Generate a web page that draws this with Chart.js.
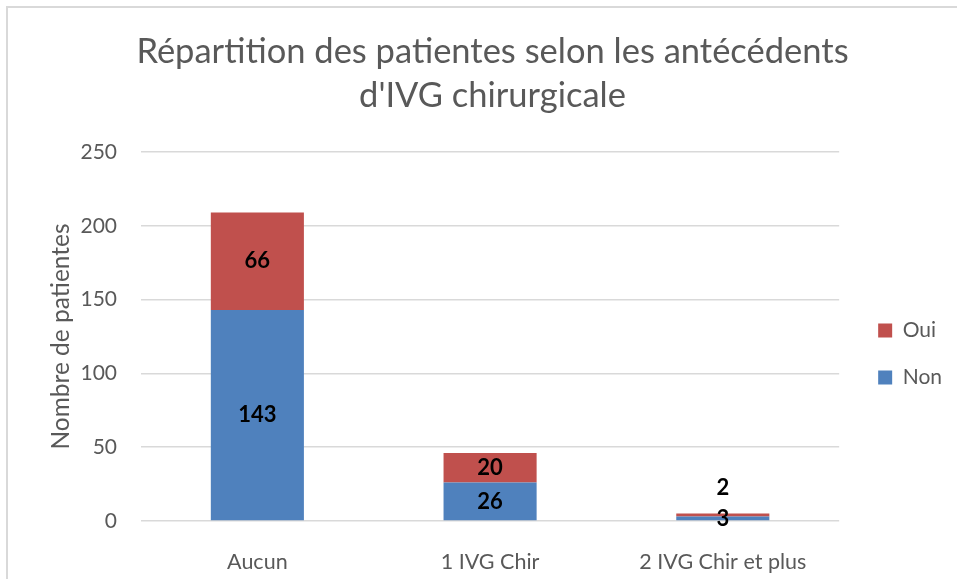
<!DOCTYPE html>
<html>
<head>
<meta charset="utf-8">
<script src="https://cdn.jsdelivr.net/npm/chart.js@4.4.1/dist/chart.umd.min.js"></script>
<style>
  html, body { margin: 0; padding: 0; background: #fff; overflow: hidden; }
  #frame { position: absolute; left: 6px; top: 6px; width: 1000px; height: 1000px; border: 2px solid #d9d9d9; }
  #wrap { position: absolute; left: 0; top: 0; width: 957px; height: 579px; }
</style>
</head>
<body>
<div id="frame"></div>
<div id="wrap"><canvas id="chart"></canvas></div>
<script>
const categories = ["Aucun", "1 IVG Chir", "2 IVG Chir et plus"];
const nonValues = [143, 26, 3];
const ouiValues = [66, 20, 2];
const titleLines = ["Répartition des patientes selon les antécédents", "d'IVG chirurgicale"];
const yTitle = "Nombre de patientes";

const FONT = "Lato";
const textGrey = "#595959";

// value labels in the middle of each segment, tiny ones go above the bar
const valueLabels = {
  id: "valueLabels",
  afterDatasetsDraw(chart) {
    const ctx = chart.ctx;
    ctx.save();
    ctx.font = "bold 22px " + FONT;
    ctx.fillStyle = "#000";
    ctx.textAlign = "center";
    ctx.textBaseline = "middle";
    chart.data.datasets.forEach((ds, i) => {
      const meta = chart.getDatasetMeta(i);
      meta.data.forEach((bar, j) => {
        let y = (bar.y + bar.base) / 2;
        if (i === 1 && Math.abs(bar.base - bar.y) < 15) y = bar.y - 26;
        ctx.fillText(ds.data[j], bar.x, y);
      });
    });
    ctx.restore();
  }
};

// nudge legend to where excel put it
const legendShift = {
  id: "legendShift",
  afterLayout(chart) {
    const lg = chart.legend;
    lg.left += 13;
    lg.right += 13;
    lg.top += 61;
    lg.bottom += 61;
  }
};

new Chart(document.getElementById("chart"), {
  type: "bar",
  data: {
    labels: categories,
    datasets: [
      { label: "Non", data: nonValues, backgroundColor: "#4F81BD" },
      { label: "Oui", data: ouiValues, backgroundColor: "#C0504D" }
    ]
  },
  options: {
    responsive: true,
    maintainAspectRatio: false,
    animation: false,
    layout: { padding: { left: 46, top: 7, right: 18, bottom: 0 } },
    datasets: { bar: { barPercentage: 0.4, categoryPercentage: 1 } },
    plugins: {
      title: {
        display: true,
        text: titleLines,
        color: textGrey,
        font: { family: FONT, size: 34.5, weight: "normal", lineHeight: 44 / 34.5 },
        padding: { top: 23, bottom: 34 }
      },
      legend: {
        position: "right",
        reverse: true,
        labels: {
          color: textGrey,
          font: { family: FONT, size: 21 },
          boxWidth: 14,
          boxHeight: 14,
          padding: 26
        }
      },
      tooltip: { enabled: false }
    },
    scales: {
      x: {
        stacked: true,
        grid: { display: false },
        border: { display: false },
        ticks: { color: textGrey, font: { family: FONT, size: 21.5 }, padding: 20, maxRotation: 0 },
        afterFit(scale) { scale.height = 58; }
      },
      y: {
        stacked: true,
        min: 0,
        max: 250,
        ticks: { stepSize: 50, color: textGrey, font: { family: FONT, size: 21 }, padding: 24 },
        grid: { color: "#d9d9d9", lineWidth: 1.5, drawTicks: false },
        border: { display: false },
        title: { display: true, text: yTitle, color: textGrey, font: { family: FONT, size: 24.5 }, padding: 0 },
        afterFit(scale) { scale.width = 95; }
      }
    }
  },
  plugins: [valueLabels, legendShift]
});
</script>
</body>
</html>
